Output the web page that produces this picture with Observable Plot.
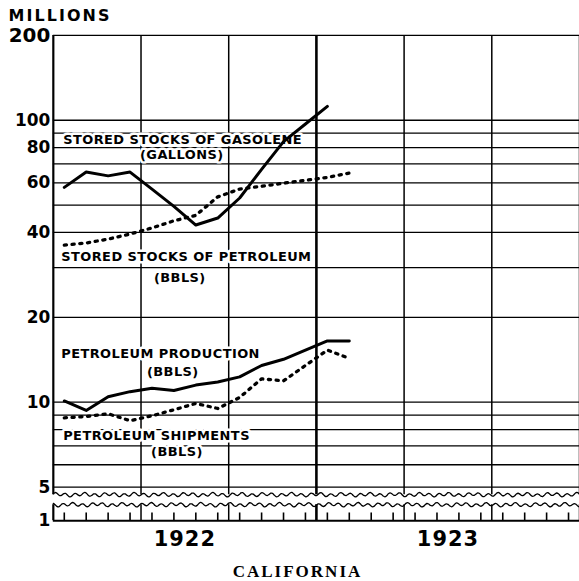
<!DOCTYPE html>
<html>
<head>
<meta charset="utf-8">
<script src="https://cdn.jsdelivr.net/npm/d3@7"></script>
<script src="https://cdn.jsdelivr.net/npm/@observablehq/plot@0.6"></script>
<style>
  html, body { margin: 0; padding: 0; background: #fff; overflow: hidden; }
  #chart { width: 579px; overflow: hidden; }
  #caption { font-family: "Liberation Serif", "DejaVu Serif", serif; font-weight: bold; font-size: 17px;
             letter-spacing: 2px; text-align: center; padding-left: 16px; margin-top: 9px; line-height: 20px; }
</style>
</head>
<body>
<div id="chart"></div>
<div id="caption">CALIFORNIA</div>
<script>
// ---- data (millions), monthly from Jan 1922 ----
const monthLabels = ["Jan 1922","Feb 1922","Mar 1922","Apr 1922","May 1922","Jun 1922","Jul 1922","Aug 1922","Sep 1922","Oct 1922","Nov 1922","Dec 1922","Jan 1923","Feb 1923"];
const gasolineStocks  = [57.8, 65.5, 63.5, 65.5, 57.0, 49.5, 42.5, 45.0, 53.0, 67.0, 84.0, 97.0, 112.0];
const petroleumStocks = [36.1, 36.7, 37.9, 39.5, 41.5, 44.0, 46.0, 53.5, 57.0, 58.3, 59.8, 61.2, 62.7, 65.0];
const production      = [10.1, 9.35, 10.45, 10.9, 11.2, 11.0, 11.5, 11.8, 12.3, 13.5, 14.2, 15.3, 16.5, 16.5];
const shipments       = [8.8, 8.9, 9.1, 8.6, 8.95, 9.4, 9.9, 9.5, 10.4, 12.1, 11.9, 13.5, 15.3, 14.3];

const years = ["1922", "1923"];
const yTickValues = [5, 10, 20, 40, 60, 80, 100, 200];
const gridValues = [5, 6, 7, 8, 9, 10, 20, 30, 40, 50, 60, 70, 80, 90, 100, 200];
const brokenAxisLabel = "1";

// ---- scale helpers ----
const Y_BOTTOM = 3.8;          // value at the bottom axis (stands for "1" after the break)
const BREAK_TOP = 4.7, BREAK_BOTTOM = 4.33;
const monthX = i => i + 0.5;   // mid-month position

const series = (vals, name) => vals.map((v, i) => ({x: monthX(i), v, name, month: monthLabels[i]}));

const majorX = d3.range(0, 25, 4);
const minorX = d3.range(0, 24).map(monthX);

// decorative break lines (axis-break symbol, not data)
function wave(base, phase) {
  return d3.range(0, 24.01, 0.08).map(x => ({
    x,
    v: base * Math.pow(10, 0.0055 * (Math.sin(x * 14 + phase) + 0.45 * Math.sin(x * 5.3 + phase * 2)))
  }));
}

const labelFont = {fontFamily: "DejaVu Sans, sans-serif", fontWeight: "bold", fontSize: 13,
                   stroke: "white", strokeWidth: 5, fill: "black"};

const titleLabels = [
  {x: 0.45, v: 85,   text: "STORED STOCKS OF GASOLENE"},
  {x: 0.36, v: 32.9, text: "STORED STOCKS OF PETROLEUM"},
  {x: 0.36, v: 14.9, text: "PETROLEUM PRODUCTION"},
  {x: 0.45, v: 7.6,  text: "PETROLEUM SHIPMENTS"}
];
const unitLabels = [
  {x: 5.86, v: 75.3, text: "(GALLONS)"},
  {x: 5.77, v: 27.5, text: "(BBLS)"},
  {x: 5.45, v: 12.8, text: "(BBLS)"},
  {x: 5.64, v: 6.67, text: "(BBLS)"}
];

const chart = Plot.plot({
  width: 581,
  height: 555,
  marginTop: 35,
  marginBottom: 33,
  marginLeft: 53,
  marginRight: 0,
  x: {domain: [0, 24], axis: null},
  y: {type: "log", domain: [Y_BOTTOM, 200], axis: null},
  style: {background: "white"},
  marks: [
    // horizontal grid
    Plot.ruleY(gridValues, {y: d => d, stroke: "black", strokeWidth: 1.3}),
    // vertical grid above and below the break
    Plot.ruleX(majorX.filter(d => d !== 0 && d !== 12), {x: d => d, y1: BREAK_TOP, y2: 200, stroke: "black", strokeWidth: 1.5}),
    Plot.ruleX(majorX.filter(d => d !== 0 && d !== 12), {x: d => d, y1: Y_BOTTOM, y2: BREAK_BOTTOM, stroke: "black", strokeWidth: 1.5}),
    Plot.ruleX([12], {x: d => d, y1: BREAK_TOP, y2: 200, stroke: "black", strokeWidth: 2.6}),
    Plot.ruleX([12], {x: d => d, y1: Y_BOTTOM, y2: BREAK_BOTTOM, stroke: "black", strokeWidth: 2.6}),
    Plot.ruleX([0], {x: d => d, y1: BREAK_TOP, y2: 200, stroke: "black", strokeWidth: 2.2}),
    Plot.ruleX([0], {x: d => d, y1: Y_BOTTOM, y2: BREAK_BOTTOM, stroke: "black", strokeWidth: 2.2}),
    // break symbol
    Plot.line(wave(BREAK_TOP, 0.3), {x: "x", y: "v", stroke: "black", strokeWidth: 1.3, curve: "catmull-rom"}),
    Plot.line(wave(BREAK_BOTTOM, 1.7), {x: "x", y: "v", stroke: "black", strokeWidth: 1.3, curve: "catmull-rom"}),
    // bottom axis + month ticks
    Plot.ruleY([Y_BOTTOM], {y: d => d, stroke: "black", strokeWidth: 2}),
    Plot.ruleX(minorX, {x: d => d, y1: Y_BOTTOM, y2: Y_BOTTOM * 1.065, stroke: "black", strokeWidth: 1.6}),
    // y tick labels
    Plot.text(yTickValues, {y: d => d, frameAnchor: "left", text: d => String(d), textAnchor: "end", dx: -3,
      fontSize: d => d === 200 ? 20 : 17, fontWeight: "bold", fontFamily: "DejaVu Sans, sans-serif"}),
    Plot.text([brokenAxisLabel], {y: [Y_BOTTOM], frameAnchor: "left", text: d => d, textAnchor: "end", dx: -3,
      fontSize: 17, fontWeight: "bold", fontFamily: "DejaVu Sans, sans-serif"}),
    Plot.text(["MILLIONS"], {frameAnchor: "top-left", text: d => d, textAnchor: "start", dx: -45, dy: -25.5,
      fontSize: 16, fontWeight: "bold", fontFamily: "DejaVu Sans, sans-serif"}),
    // year labels
    Plot.text(years, {x: (d, i) => 6 + 12 * i, frameAnchor: "bottom", text: d => d, dy: 25,
      fontSize: 21, fontWeight: "bold", fontFamily: "DejaVu Sans, sans-serif"}),
    // series labels
    Plot.text(titleLabels, {x: "x", y: "v", text: "text", textAnchor: "start", ...labelFont}),
    Plot.text(unitLabels, {x: "x", y: "v", text: "text", textAnchor: "middle", ...labelFont}),
    // data lines
    Plot.line(series(gasolineStocks, "gasoline"), {x: "x", y: "v", stroke: "black", strokeWidth: 3, strokeLinejoin: "round"}),
    Plot.line(series(petroleumStocks, "petroleum stocks"), {x: "x", y: "v", stroke: "black", strokeWidth: 3.3,
      strokeDasharray: "2.2,5.6", strokeLinecap: "round"}),
    Plot.line(series(production, "production"), {x: "x", y: "v", stroke: "black", strokeWidth: 3, strokeLinejoin: "round"}),
    Plot.line(series(shipments, "shipments"), {x: "x", y: "v", stroke: "black", strokeWidth: 3.3,
      strokeDasharray: "2.2,5.6", strokeLinecap: "round"})
  ]
});

// letter spacing for the hand-lettered texts
const spacing = new Map([["MILLIONS", "2.1px"], ...years.map(y => [y, "1px"]),
  ...titleLabels.map(d => [d.text, "0.45px"]), ...unitLabels.map(d => [d.text, "0.45px"])]);
d3.select(chart).selectAll("text").each(function () {
  const s = spacing.get(this.textContent);
  if (s) { this.setAttribute("letter-spacing", s); this.style.letterSpacing = s; }
});
document.getElementById("chart").appendChild(chart);
</script>
</body>
</html>
